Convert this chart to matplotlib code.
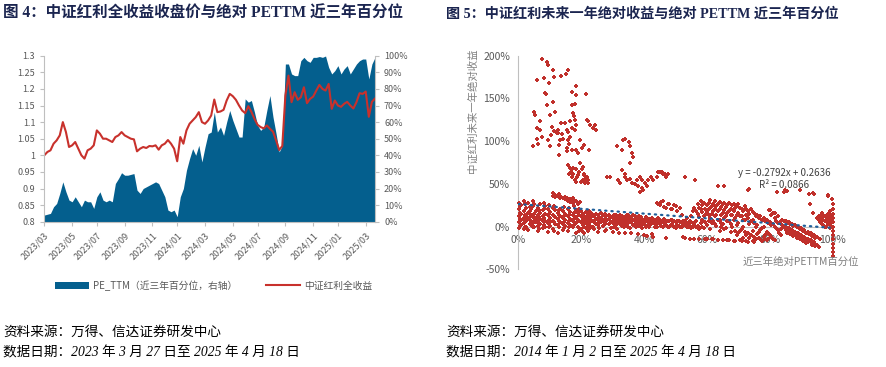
import numpy as np
import pandas as pd
import matplotlib
matplotlib.use("Agg")
import matplotlib.pyplot as plt
from matplotlib.patches import Patch
from matplotlib.lines import Line2D

plt.rcParams["font.family"] = ["Noto Sans CJK SC", "DejaVu Sans"]
plt.rcParams["axes.unicode_minus"] = False

# ---- figure 4: weekly close (left axis) and PE_TTM 3y percentile (right axis, %)
close = [1.000, 1.010, 1.015, 1.035, 1.045, 1.060, 1.100, 1.070, 1.025, 1.030,
         1.040, 1.020, 1.000, 0.990, 1.015, 1.020, 1.030, 1.075, 1.065, 1.050,
         1.050, 1.045, 1.040, 1.055, 1.060, 1.070, 1.060, 1.055, 1.050, 1.048,
         1.012, 1.020, 1.025, 1.022, 1.028, 1.027, 1.030, 1.017, 1.030, 1.035,
         1.046, 1.035, 1.020, 0.982, 1.055, 1.035, 1.075, 1.095, 1.105, 1.115,
         1.130, 1.100, 1.095, 1.105, 1.120, 1.168, 1.130, 1.132, 1.137, 1.165,
         1.185, 1.178, 1.167, 1.150, 1.135, 1.127, 1.148, 1.131, 1.110, 1.092,
         1.085, 1.081, 1.090, 1.080, 1.071, 1.045, 1.016, 1.028, 1.180, 1.240,
         1.160, 1.190, 1.167, 1.175, 1.205, 1.157, 1.170, 1.177, 1.195, 1.212,
         1.200, 1.195, 1.215, 1.140, 1.165, 1.150, 1.146, 1.155, 1.161, 1.150,
         1.141, 1.160, 1.187, 1.185, 1.192, 1.116, 1.161, 1.171]
pe_pct = [4, 4.5, 5, 9, 11, 17, 24, 18, 13, 12,
          15, 12, 9, 13, 12, 12, 8, 15, 18, 13,
          12, 13, 12, 23, 26, 29.5, 28, 28, 28.5, 29,
          19, 17, 20, 21, 22, 23, 24, 23, 19, 15,
          7, 6, 7, 3, 15, 20, 31, 38, 44, 40,
          46, 36, 45, 53, 54, 66, 54, 57, 52, 60,
          67, 61, 56, 51, 51, 74, 72, 73, 66, 58,
          55, 57, 67, 76, 63, 53, 42, 46, 95, 95,
          89, 88, 88, 97, 99, 97, 96, 99, 99, 99.5,
          99, 99.8, 93, 89, 91, 94, 89, 92, 94, 89,
          92, 95, 97, 98, 98, 86, 95, 99]
dates = pd.date_range("2023-03-27", periods=len(close), freq="7D")

# ---- figure 5: PE_TTM percentile (%) vs. next-year return (%)
pts_high = [(7.4, 196), (9.2, 193), (9.5, 189), (5.8, 172), (8.2, 174), (11.1, 183),
            (11.3, 175), (13.5, 176), (15.2, 178), (15.7, 183), (9.8, 168), (8.5, 156),
            (8.8, 155), (9.0, 142), (11.1, 146), (11.7, 134), (5.1, 134), (5.4, 131),
            (6.9, 123), (5.8, 115), (6.9, 113), (4.8, 94), (6.2, 97), (5.8, 102),
            (7.6, 105), (10.1, 131), (10.6, 117), (10.1, 94), (9.5, 101), (12.7, 113),
            (12.2, 109), (13.5, 121), (14.8, 121), (15.4, 113), (15.9, 111), (17.0, 115),
            (16.4, 123), (18.0, 113), (18.0, 125), (17.0, 142), (17.0, 157), (18.3, 164),
            (18.5, 154), (18.0, 144), (17.5, 133), (17.8, 129), (18.5, 119), (13.3, 101),
            (14.3, 103), (15.9, 101), (15.4, 92), (12.9, 84), (15.6, 88), (17.2, 90),
            (18.5, 90), (19.1, 86), (20.2, 92), (20.9, 96), (19.7, 101), (21.5, 155),
            (21.8, 125), (22.3, 123), (22.8, 119), (24.4, 119), (23.7, 115), (24.7, 113),
            (22.6, 90), (11.5, 112), (12.5, 110), (14.0, 108), (16.5, 105), (10.5, 107),
            (13.0, 96), (16.0, 97)]
pts_mid = [(15.9, 72), (16.4, 68), (17.0, 67), (16.2, 62), (17.0, 58), (17.5, 62),
           (18.0, 55), (18.7, 58), (19.4, 64), (20.2, 67), (20.7, 70), (20.9, 62),
           (20.5, 55), (21.3, 56), (21.8, 58), (22.3, 55), (18.5, 67), (19.7, 74),
           (21.3, 51), (22.3, 51), (17.5, 68), (19.0, 60), (20.0, 52), (16.8, 64),
           (21.0, 60), (22.0, 53), (18.3, 52),
           (31.3, 94), (32.9, 90), (33.4, 101), (33.9, 103), (35.2, 99), (35.5, 94),
           (36.1, 86), (36.4, 82), (35.5, 74), (28.1, 58), (29.2, 58), (31.8, 55),
           (32.9, 66), (32.4, 51), (33.9, 58), (34.5, 55), (35.5, 56), (36.1, 51),
           (37.6, 55), (38.7, 58), (38.2, 47), (39.2, 45), (39.7, 43), (40.2, 51),
           (41.3, 55), (42.3, 58), (42.8, 55), (38.6, 41), (44.5, 64), (45.6, 64),
           (46.6, 62), (47.7, 62), (44.0, 58), (45.1, 64), (46.1, 61), (47.1, 58),
           (37.0, 50), (40.8, 47), (34.0, 62), (39.5, 54)]
pts_sparse = [(53.0, 58), (56.2, 54), (63.6, 48), (65.4, 48), (73.5, 44), (82.2, 40),
              (85.4, 42), (84.6, 40), (92.6, 38), (94.1, 38), (92.8, 27), (93.7, 16),
              (98.6, 36), (99.7, 32), (100, 27), (79.8, 19), (81.6, 16), (73.2, 43),
              (84.8, 43), (89.5, 43), (93.8, 39), (98.6, 37),
              (11.1, 39), (11.8, 37), (12.5, 36), (13.5, 35), (14.5, 34), (15.4, 33),
              (16.3, 32), (17.0, 31), (18.0, 30), (19.6, 29), (13.0, 38), (15.0, 35),
              (17.5, 33)]
# dense band: (percentile, [returns...])
band_lo = [(0.3, [28, 20, 12, 5, -2]), (1.0, [25, 15, 8, 2]), (1.8, [30, 18, 10, 4, -3]),
           (2.5, [22, 12, 6, 0]), (3.2, [28, 16, 9, -4]), (4.0, [20, 13, 7, 2]),
           (4.8, [30, 24, 11, 4, -1]), (5.5, [18, 10, 5]), (6.3, [22, 14, 8, 1, -5]),
           (7.0, [26, 16, 9, 3]), (7.8, [19, 12, 6, -2]), (8.6, [24, 15, 7, 0]),
           (9.4, [21, 13, 4, -6]), (10.2, [17, 10, 5, 1]), (11.0, [36, 22, 14, 7, -3]),
           (11.8, [35, 19, 11, 3]), (12.6, [16, 9, 2, -7]), (13.4, [34, 21, 12, 5]),
           (14.2, [33, 18, 10, 3, -4]), (15.0, [32, 15, 8, 1]), (15.8, [30, 20, 12, 4, -5]),
           (16.6, [29, 17, 9, 2]), (17.4, [28, 14, 7, -1]), (18.2, [30, 19, 11, 4, -8]),
           (19.0, [26, 16, 8, 0]), (19.8, [18, 12, 5, -3]), (20.6, [15, 9, 2, -6]),
           (21.4, [17, 10, 4, -2]), (22.2, [14, 8, 1, -5]), (23.0, [16, 11, 6, 0]),
           (23.8, [13, 7, -1]), (24.6, [15, 9, 3]), (25.4, [14, 8, 2, -6]),
           (26.2, [16, 10, 5]), (27.0, [13, 7, 1]), (28.0, [12, 6, -4]), (29.0, [14, 9, 3]),
           (0.6, [16, 9, 1, 24]), (2.1, [26, 14, 7, -1]), (3.6, [23, 11, 3, 18]),
           (5.1, [27, 15, 6, 0]), (6.7, [19, 11, 4, -3]), (8.2, [21, 10, 2, 28]),
           (9.8, [15, 8, 0, 25]), (11.4, [24, 12, 5, -5]), (13.0, [19, 13, 6, 0]),
           (14.6, [23, 12, 5, -2]), (16.2, [22, 14, 6, -1]), (17.8, [24, 16, 9, 2]),
           (19.4, [21, 14, 7, -5]), (21.0, [12, 6, 0, -8]), (22.6, [18, 10, 3, -3]),
           (24.2, [12, 5, -3]), (25.8, [11, 4, -2]), (27.5, [15, 9, 3, -5]),
           (29.5, [11, 5, -2])]
band_mid = [(30, [11, 6, -6]), (31, [13, 8, 2]), (32, [10, 5, -7]), (33, [12, 7, 1]),
            (34, [11, 6, -8]), (35, [13, 4, 0]), (36, [10, 5, -8]), (37, [12, 3]),
            (38, [9, 4, -9]), (39, [11, 2]), (40, [8, 3, -10]), (41, [10, 1, -11]),
            (42, [7, 2]), (43, [9, 4, -12]), (44, [6, 0, 28]), (45, [8, 3, 25]),
            (46, [5, -1, 30]), (47, [7, 2, 22, -13]), (48, [6, 0, 26]), (49, [8, 3, 20]),
            (50, [5, -2, 24]), (51, [7, 1]), (52, [4, -1, 14]), (53, [6, 2, -13]),
            (54, [3, 0]), (55, [5, -2, 12]), (56, [22, 3, -14]), (57, [26, 15, 1]),
            (58, [30, 20, 4]), (59, [28, 12, -2]),
            (30.5, [14, 8, 3, -1]), (31.5, [10, 4, -3]), (32.5, [14, 9, 3]),
            (33.5, [10, 4, -1]), (34.5, [14, 9, 2]), (35.5, [11, 7, -2]),
            (36.5, [13, 8, 2]), (37.5, [10, 6, -1]), (38.5, [12, 7, 1]),
            (39.5, [9, 5, -2]), (40.5, [11, 6, 0]), (41.5, [9, 4, -1]),
            (42.5, [10, 5, -9]), (43.5, [8, 3, -1]), (44.5, [10, 4, 26]),
            (45.5, [7, 1, 29]), (46.5, [9, 4, 23]), (47.5, [6, 0, 27]),
            (48.5, [8, 2, 21]), (49.5, [6, 0, 25]), (50.5, [7, 2, 18]),
            (51.5, [5, 0, 22]), (52.5, [6, 2, -12]), (53.5, [4, -1, 10]),
            (54.5, [6, 1, -14]), (55.5, [4, -1, 18]), (56.5, [18, 6, -1]),
            (57.5, [22, 11, -3, -14]), (58.5, [25, 17, 8, 0]), (59.5, [21, 14, 5, -14])]
band_hi = [(60, [25, 17, 2, -15]), (61, [31, 22, 10, -3]), (62, [27, 18, 6, -15]),
           (63, [24, 14, 1]), (64, [29, 20, 8, -5]), (65, [26, 16, 3, -16]),
           (66, [23, 12, -2]), (67, [28, 18, 6, -16]), (68, [25, 14, 0]),
           (69, [22, 10, -5, -17]), (70, [26, 16, 4, -8]), (71, [20, 12, -3, -17]),
           (72, [24, 8, -6]), (73, [18, 10, -8, -18]), (74, [21, 6, -10]),
           (75, [16, 4, -12, -18]), (76, [14, 2, -9]), (77, [12, -4, -15]),
           (78, [10, 0, -12]), (79, [8, -6, -16]), (80, [19, 5, -10]), (81, [16, 3, -14]),
           (82, [6, -2]), (83, [4, -8]), (84, [8, 2]), (85, [6, 0, -4]), (86, [5, -2, -6]),
           (87, [3, -4, -8]), (88, [2, -6, -10]), (89, [0, -8, -12]), (90, [-2, -10, -14]),
           (91, [-4, -12, -16]), (92, [-6, -14, -18]), (93, [-8, -16]),
           (94, [-10, -18, -20]), (95, [10, -12, -22]), (96, [12, 5, -15]),
           (97, [14, 8, 2]), (98, [11, 6, 0]), (99, [9, 4, -2]), (99.5, [13, 7, 1]),
           (100, [20, 15, 10, 5, 0, -5, -10, -15, -20, -25, -30, -35]),
           (60.5, [28, 20, 13, 6]), (61.5, [24, 15, 4, -15]), (62.5, [30, 21, 12, 3]),
           (63.5, [27, 18, 8, -16]), (64.5, [23, 14, 4, 0]), (65.5, [28, 19, 10, -3]),
           (66.5, [25, 16, 6, -16]), (67.5, [21, 13, 3, -6]), (68.5, [27, 18, 8, -17]),
           (69.5, [24, 14, 2, -10]), (70.5, [22, 12, -5, -16]), (71.5, [18, 8, -1, -13]),
           (72.5, [20, 14, -10, -17]), (73.5, [15, 3, -13]), (74.5, [17, 8, -5, -17]),
           (75.5, [12, 0, -15]), (76.5, [10, -6, -13]), (77.5, [8, -2, -17]),
           (78.5, [6, -10, -15]), (79.5, [4, -8, -14]), (80.5, [14, 2, -12]),
           (81.5, [10, 0, -16]), (82.5, [12, 4, -4]), (83.5, [6, -3, -10]),
           (84.5, [7, 0]), (85.5, [4, -3, -7]), (86.5, [3, -5, -9]), (87.5, [1, -7, -11]),
           (88.5, [-1, -9, -13]), (89.5, [-3, -11, -15]), (90.5, [-5, -13, -17]),
           (91.5, [-7, -15, -19]), (92.5, [-9, -17]), (93.5, [-11, -19, -21]),
           (94.5, [-13, -21, -23]), (95.5, [8, 12, -24]), (96.5, [10, 3, 16]),
           (97.5, [12, 6, 0]), (98.5, [15, 9, 3]), (99.2, [11, 5, 18])]
trend_slope, trend_icpt = -0.2792, 0.2636

BLUE = "#045F8E"
RED = "#C8312C"
PT_RED = "#C0302B"
GRID = "#BFBFBF"
TXT = "#595959"
SERIF = ["Liberation Serif", "Noto Sans CJK SC"]

fig = plt.figure(figsize=(8.86, 3.67), dpi=100)
W, H = 886, 367


def fx(px):
    return px / W


def fy(py):
    return 1 - py / H


# ---------------- left chart
ax = fig.add_axes([fx(44.3), fy(221.7), fx(375 - 44.3), (221.7 - 55.7) / H])
ax2 = ax.twinx()
x = np.arange(len(close))
ax2.fill_between(x, pe_pct, 0, color=BLUE, lw=0)
ax.plot(x, close, color=RED, lw=1.5)
ax.set_zorder(ax2.get_zorder() + 1)
ax.patch.set_visible(False)

ax.set_xlim(0, len(close) - 1)
ax.set_ylim(0.8, 1.3)
ax2.set_ylim(0, 100)
yt = np.arange(0.8, 1.3001, 0.05)
ax.set_yticks(yt)
ax.set_yticklabels([f"{v:g}" for v in np.round(yt, 2)])
ax2.set_yticks(np.arange(0, 101, 10))
ax2.set_yticklabels([f"{v}%" for v in range(0, 101, 10)])
tick_idx = [int(round(k * 8.67)) for k in range(13)]
ax.set_xticks(tick_idx)
ax.set_xticklabels([dates[i].strftime("%Y/%m") for i in tick_idx],
                   rotation=45, ha="right", va="top", rotation_mode="anchor")
for a in (ax, ax2):
    a.tick_params(colors=GRID, labelcolor=TXT, labelsize=6.5, length=3, width=0.8)
    for s in a.spines.values():
        s.set_color(GRID)
        s.set_linewidth(0.8)
    a.spines["top"].set_visible(False)
ax.spines["right"].set_visible(False)
ax2.spines["left"].set_visible(False)
ax2.spines["bottom"].set_visible(False)

handles = [Patch(facecolor=BLUE, edgecolor="none"), Line2D([], [], color=RED, lw=1.5)]
fig.legend(handles, ["PE_TTM（近三年百分位，右轴）", "中证红利全收益"],
           loc="center", bbox_to_anchor=(fx(213.5), fy(285.7)), ncol=2, frameon=False,
           fontsize=7, handlelength=3.5, handleheight=0.8, handletextpad=0.4,
           columnspacing=3.0, labelcolor=TXT)

# ---------------- right chart
bx = fig.add_axes([fx(518.3), fy(269.3), fx(832.7 - 518.3), (269.3 - 55.7) / H])
for g in (pts_high, pts_mid, pts_sparse):
    bx.scatter([p[0] for p in g], [p[1] for p in g], marker="P", s=10, color=PT_RED,
               linewidths=0, clip_on=False, zorder=3)
for band in (band_lo, band_mid, band_hi):
    bxs = [xv for xv, ys in band for _ in ys]
    bys = [yv for _, ys in band for yv in ys]
    bx.scatter(bxs, bys, marker="P", s=11, color=PT_RED, linewidths=0,
               clip_on=False, zorder=3)
tx = np.array([0, 100])
bx.plot(tx, (trend_slope * tx / 100 + trend_icpt) * 100, color="#1F5F9A",
        lw=1.6, ls=(0, (0.6, 2.2)), dash_capstyle="round", zorder=4)

bx.set_xlim(0, 100)
bx.set_ylim(-50, 200)
bx.set_xticks(range(0, 101, 20))
bx.set_xticklabels([f"{v}%" for v in range(0, 101, 20)])
bx.set_yticks(range(-50, 201, 50))
bx.set_yticklabels([f"{v}%" for v in range(-50, 201, 50)])
bx.spines["bottom"].set_position(("data", 0))
bx.spines["top"].set_visible(False)
bx.spines["right"].set_visible(False)
for s in ("left", "bottom"):
    bx.spines[s].set_color(GRID)
    bx.spines[s].set_linewidth(0.8)
bx.spines["bottom"].set_zorder(1)
bx.tick_params(length=0, labelcolor=TXT, labelsize=7.5)
bx.tick_params(axis="x", pad=6)
bx.tick_params(axis="y", pad=6)

fig.text(fx(784), fy(173), "y = -0.2792x + 0.2636", ha="center", va="center",
         fontsize=7, color="#404040")
fig.text(fx(784), fy(185), "R² = 0.0866", ha="center", va="center",
         fontsize=7, color="#404040")
fig.text(fx(472.7), fy(110.5), "中证红利未来一年绝对收益", rotation=90, ha="center",
         va="center", fontsize=7.5, color="#7F7F7F")
fig.text(fx(859), fy(262), "近三年绝对PETTM百分位", ha="right", va="center",
         fontsize=7.5, color="#7F7F7F")

# ---------------- titles and notes
fig.text(fx(3), fy(14), "图 4：中证红利全收益收盘价与绝对 PETTM 近三年百分位",
         family=SERIF, fontweight="bold", fontsize=11.2, color="#1B2550", va="center")
fig.text(fx(446), fy(14), "图 5：中证红利未来一年绝对收益与绝对 PETTM 近三年百分位",
         family=SERIF, fontweight="bold", fontsize=10.2, color="#1B2550", va="center")
notes = [("资料来源：万得、信达证券研发中心", "数据日期：2023 年 3 月 27 日至 2025 年 4 月 18 日"),
         ("资料来源：万得、信达证券研发中心", "数据日期：2014 年 1 月 2 日至 2025 年 4 月 18 日")]
for x0, (n1, n2) in zip((3, 446), notes):
    fig.text(fx(x0), fy(332.7), n1, family=SERIF, style="italic", fontsize=9.8,
             color="black", va="center")
    fig.text(fx(x0), fy(352.7), n2, family=SERIF, style="italic", fontsize=9.8,
             color="black", va="center")

fig.savefig("out.png", dpi=100)
